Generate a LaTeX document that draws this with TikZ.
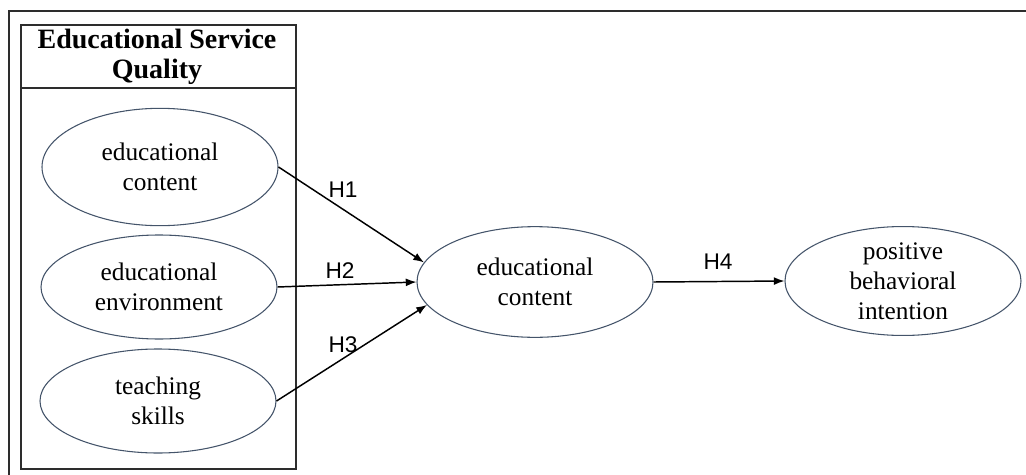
\documentclass[tikz,border=0pt]{standalone}
\usepackage{fontspec}
\setmainfont{Liberation Serif}
\newfontfamily\hfont{Liberation Sans}
\usetikzlibrary{arrows.meta,shapes.geometric}
\definecolor{ellcol}{RGB}{68,84,106}
\definecolor{framecol}{RGB}{45,45,45}
\begin{document}
\begin{tikzpicture}[x=0.75pt,y=-0.75pt,
  frameline/.style={draw=framecol,line width=1.5pt},
  ell/.style={draw=ellcol,line width=0.8pt,ellipse,inner sep=0pt,
     minimum width=177pt,minimum height=80pt,align=center,
     font=\fontsize{19}{22.5}\selectfont},
  conn/.style={draw=black,line width=1.1pt,-{Latex[length=8pt,width=6pt]}},
  hlab/.style={font=\hfont\fontsize{17}{20}\selectfont,inner sep=0pt}]
\useasboundingbox (0,0) rectangle (1026,475);
% outer frame (cropped at right and bottom)
\coordinate (ftl) at (9,11);
\coordinate (fbl) at (9,476);
\coordinate (ftr) at (1027,11);
\draw[frameline] (fbl) -- (ftl) -- (ftr);
% inner box
\node[frameline,minimum width=206.25pt,minimum height=333pt,inner sep=0pt,anchor=north west] (box) at (20,24) {};
\coordinate (sepl) at (20,88);
\coordinate (sepr) at (295,88);
\draw[frameline] (sepl) -- (sepr);
\node[font=\bfseries\fontsize{21}{22.5}\selectfont,align=center,inner sep=0pt] (title) at (157,57) {Educational Service\\Quality};
% ellipses
\node[ell,minimum height=88pt] (e1) at (160,167) {educational\\content};
\node[ell,minimum height=78pt] (e2) at (159,287) {educational\\environment};
\node[ell,minimum height=78pt] (e3) at (158,401) {teaching\\skills};
\node[ell,minimum height=83pt] (mid) at (535,282) {educational\\content};
\node[ell,minimum height=79pt] (pbi) at (903,281) {positive\\behavioral\\intention};
% connectors
\draw[conn] (e1.east) -- (mid.170);
\draw[conn] (e2.east) -- (mid.west);
\draw[conn] (e3.east) -- (mid.192);
\draw[conn] (mid.east) -- (pbi.west);
% labels
\node[hlab] (h1) at (343,190) {H1};
\node[hlab] (h2) at (340,271) {H2};
\node[hlab] (h3) at (343,345) {H3};
\node[hlab] (h4) at (718,262) {H4};
\end{tikzpicture}
\end{document}
